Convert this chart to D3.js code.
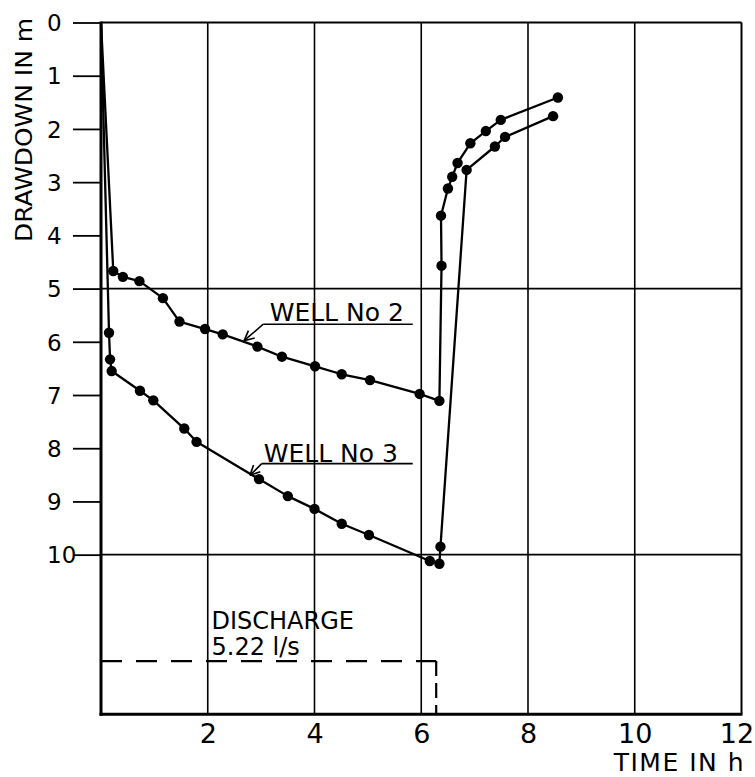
<!DOCTYPE html>
<html>
<head>
<meta charset="utf-8">
<script src="https://cdn.jsdelivr.net/npm/d3@7"></script>
<style>
  html, body { margin: 0; padding: 0; background: #fff; }
  svg { display: block; }
  text { font-family: "DejaVu Sans", "Liberation Sans", sans-serif; fill: #000; }
</style>
</head>
<body>
<svg id="chart" width="755" height="777"></svg>
<script>
// ---------- data ----------
const xTickValues = [2, 4, 6, 8, 10, 12];
const yTickValues = [0, 1, 2, 3, 4, 5, 6, 7, 8, 9, 10];
const yGridValues = [5, 10];
const origin = [0, 0];

const well2Time     = [0.23, 0.41, 0.72, 1.16, 1.47, 1.95, 2.28, 2.93, 3.39, 4.01, 4.51, 5.04, 5.97, 6.34, 6.38, 6.37, 6.50, 6.58, 6.68, 6.92, 7.21, 7.49, 8.56];
const well2Drawdown = [4.67, 4.78, 4.86, 5.18, 5.62, 5.76, 5.86, 6.09, 6.28, 6.46, 6.61, 6.72, 6.98, 7.11, 4.57, 3.63, 3.12, 2.90, 2.64, 2.27, 2.04, 1.83, 1.41];

const well3Time     = [0.15, 0.17, 0.20, 0.73, 0.98, 1.56, 1.79, 2.96, 3.50, 4.00, 4.51, 5.02, 6.16, 6.34, 6.36, 6.85, 7.38, 7.57, 8.47];
const well3Drawdown = [5.83, 6.33, 6.55, 6.92, 7.10, 7.63, 7.88, 8.58, 8.90, 9.14, 9.42, 9.63, 10.12, 10.17, 9.85, 2.77, 2.33, 2.15, 1.76];

// discharge step (5.22 l/s), drawn on the drawdown scale below the curves
const dischargeTime  = [0, 6.28, 6.28];
const dischargeLevel = [12, 12, 13];

const labels = [
  { text: "WELL No 2", x: 3.16, y: 5.61, lineX0: 3.04, lineX1: 5.84, lineY: 5.67, tipX: 2.68, tipY: 5.98 },
  { text: "WELL No 3", x: 3.05, y: 8.26, lineX0: 3.01, lineX1: 5.84, lineY: 8.29, tipX: 2.79, tipY: 8.51 }
];

// ---------- layout ----------
const svg = d3.select("#chart");
const x = d3.scaleLinear().domain([0, 12]).range([101, 741.5]);
const y = d3.scaleLinear().domain([0, 13]).range([22.5, 714.3]);

// vertical grid lines
svg.append("g").selectAll("line").data(xTickValues.filter(d => d < 12)).join("line")
  .attr("x1", d => x(d)).attr("x2", d => x(d))
  .attr("y1", y(0)).attr("y2", y(13))
  .attr("stroke", "#000").attr("stroke-width", 1.6);

// horizontal grid lines
svg.append("g").selectAll("line").data(yGridValues).join("line")
  .attr("x1", x(0)).attr("x2", x(12))
  .attr("y1", d => y(d)).attr("y2", d => y(d))
  .attr("stroke", "#000").attr("stroke-width", 1.8);

// frame: top and right
svg.append("line").attr("x1", x(0)).attr("x2", x(12)).attr("y1", y(0)).attr("y2", y(0))
  .attr("stroke", "#000").attr("stroke-width", 2.2);
svg.append("line").attr("x1", x(12)).attr("x2", x(12)).attr("y1", y(0)).attr("y2", y(13))
  .attr("stroke", "#000").attr("stroke-width", 2);

// left axis with outward ticks
const yAxis = d3.axisLeft(y).tickValues(yTickValues).tickSize(28).tickPadding(0).tickFormat(d3.format("d"));
const gy = svg.append("g").attr("transform", `translate(${x(0)},0)`).call(yAxis);
gy.select(".domain").remove();
gy.selectAll(".tick line").attr("stroke", "#000").attr("stroke-width", 1.8);
gy.selectAll(".tick text")
  .attr("x", 47 - x(0)).attr("text-anchor", "start")
  .attr("dy", "0.36em")
  .style("font-size", "23px").style("font-family", "DejaVu Sans");
svg.append("line").attr("x1", x(0)).attr("x2", x(0)).attr("y1", y(0) - 1).attr("y2", y(13) + 1.5)
  .attr("stroke", "#000").attr("stroke-width", 3);

// bottom axis
const xAxis = d3.axisBottom(x).tickValues(xTickValues).tickSize(0).tickPadding(0).tickFormat(d3.format("d"));
const gx = svg.append("g").attr("transform", `translate(0,${y(13)})`).call(xAxis);
gx.select(".domain").remove();
gx.selectAll(".tick text")
  .attr("y", 29).attr("dy", 0)
  .attr("dx", d => d === 12 ? -5 : 0)
  .style("font-size", "27px").style("font-family", "DejaVu Sans");
svg.append("line").attr("x1", x(0) - 1.5).attr("x2", x(12) + 1).attr("y1", y(13)).attr("y2", y(13))
  .attr("stroke", "#000").attr("stroke-width", 3);

// axis titles
svg.append("text")
  .attr("transform", `translate(32,18) rotate(-90)`)
  .attr("text-anchor", "end")
  .style("font-size", "23px")
  .attr("textLength", 224).attr("lengthAdjust", "spacingAndGlyphs")
  .text("DRAWDOWN IN m");
svg.append("text")
  .attr("x", 745).attr("y", 771)
  .attr("text-anchor", "end")
  .style("font-size", "25px")
  .style("letter-spacing", "1.5px")
  .text("TIME IN h");

// discharge dashed step
const dischargePts = dischargeTime.map((t, i) => [t, dischargeLevel[i]]);
const dischargeLine = d3.line().x(d => x(d[0])).y(d => y(d[1]));
svg.append("path")
  .datum(dischargePts.slice(0, 2))
  .attr("d", dischargeLine)
  .attr("fill", "none").attr("stroke", "#000").attr("stroke-width", 2.2)
  .attr("stroke-dasharray", "21,14");
svg.append("path")
  .datum(dischargePts.slice(1))
  .attr("d", dischargeLine)
  .attr("fill", "none").attr("stroke", "#000").attr("stroke-width", 2.2)
  .attr("stroke-dasharray", "15,7");
svg.append("text").attr("x", x(2.07)).attr("y", y(11.39)).style("font-size", "24px").text("DISCHARGE");
svg.append("text").attr("x", x(2.07)).attr("y", y(11.89)).style("font-size", "24px").text("5.22 l/s");

// wells
const wells = [
  { time: well2Time, dd: well2Drawdown },
  { time: well3Time, dd: well3Drawdown }
];
const line = d3.line().x(d => x(d[0])).y(d => y(d[1]));
wells.forEach(w => {
  const pts = w.time.map((t, i) => [t, w.dd[i]]);
  svg.append("path").datum([origin, ...pts]).attr("d", line)
    .attr("fill", "none").attr("stroke", "#000").attr("stroke-width", 2.3)
    .attr("stroke-linejoin", "round");
  svg.append("g").selectAll("circle").data(pts).join("circle")
    .attr("cx", d => x(d[0])).attr("cy", d => y(d[1])).attr("r", 5.2).attr("fill", "#000");
});

// labels with leader arrows
labels.forEach(l => {
  svg.append("text").attr("x", x(l.x)).attr("y", y(l.y)).style("font-size", "25px").text(l.text);
  svg.append("line").attr("x1", x(l.lineX0)).attr("x2", x(l.lineX1)).attr("y1", y(l.lineY)).attr("y2", y(l.lineY))
    .attr("stroke", "#000").attr("stroke-width", 1.6);
  const x0 = x(l.lineX0), y0 = y(l.lineY), x1 = x(l.tipX), y1 = y(l.tipY);
  svg.append("line").attr("x1", x0).attr("y1", y0).attr("x2", x1).attr("y2", y1)
    .attr("stroke", "#000").attr("stroke-width", 1.6);
  const ang = Math.atan2(y0 - y1, x0 - x1);
  const len = 11, spread = 0.45;
  [ang - spread, ang + spread].forEach(a => {
    svg.append("line").attr("x1", x1).attr("y1", y1)
      .attr("x2", x1 + len * Math.cos(a)).attr("y2", y1 + len * Math.sin(a))
      .attr("stroke", "#000").attr("stroke-width", 1.6);
  });
});
</script>
</body>
</html>
